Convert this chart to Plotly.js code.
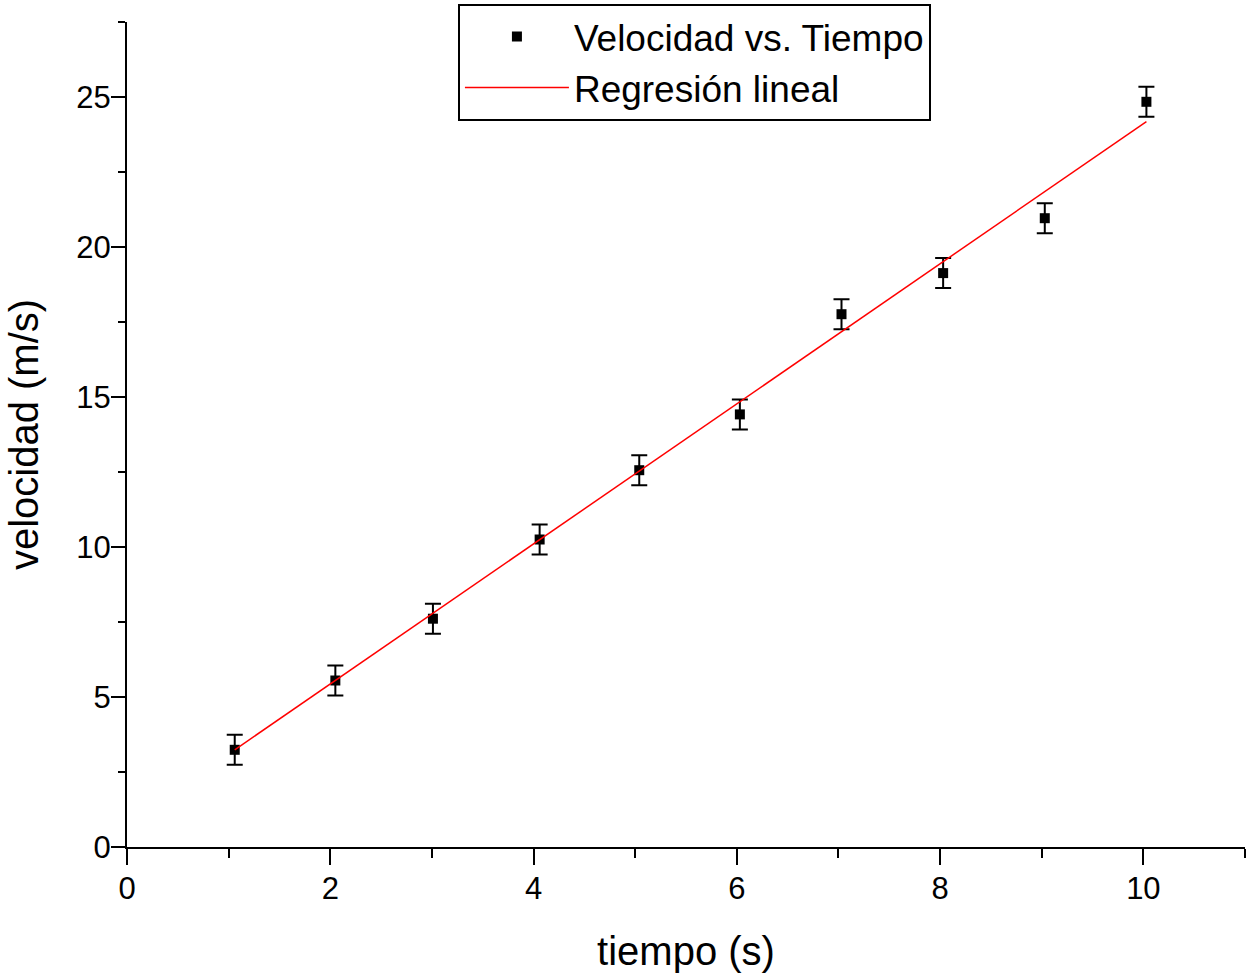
<!DOCTYPE html>
<html>
<head>
<meta charset="utf-8">
<script src="https://cdn.plot.ly/plotly-3.0.1.min.js"></script>
<style>
html,body{margin:0;padding:0;background:#fff;}
#chart{width:1249px;height:980px;}
</style>
</head>
<body>
<div id="chart"></div>
<script>
// Data
var tiempo = [1.06, 2.05, 3.01, 4.06, 5.04, 6.03, 7.03, 8.03, 9.03, 10.03];
var velocidad = [3.24, 5.55, 7.61, 10.25, 12.56, 14.42, 17.76, 19.13, 20.96, 24.84];
var errorVel = [0.5, 0.5, 0.5, 0.5, 0.5, 0.5, 0.5, 0.5, 0.5, 0.5];
var fitX = [1.06, 10.03];
var fitY = [3.24, 24.18];
var seriesNames = ["Velocidad vs. Tiempo", "Regresión lineal"];
var xTitle = "tiempo (s)";
var yTitle = "velocidad (m/s)";

var FONT = "Liberation Sans, Arial, sans-serif";

var traces = [
  {
    x: tiempo, y: velocidad, type: "scatter", mode: "markers",
    name: seriesNames[0],
    marker: {symbol: "square", size: 10, color: "black"},
    error_y: {type: "data", array: errorVel, visible: true, color: "black", thickness: 2, width: 8}
  },
  {
    x: fitX, y: fitY, type: "scatter", mode: "lines",
    name: seriesNames[1],
    line: {color: "#ff0000", width: 1.5}
  }
];

var axisCommon = {
  showgrid: false, zeroline: false, showline: true,
  linecolor: "black", linewidth: 2,
  ticks: "outside", tickcolor: "black", tickwidth: 2,
  tickfont: {family: FONT, size: 31, color: "black"},
  mirror: false
};

var layout = {
  width: 1249, height: 980,
  paper_bgcolor: "white", plot_bgcolor: "white",
  margin: {l: 127, r: 4, t: 22, b: 133},
  showlegend: true,
  legend: {
    x: 0.296, y: 1.022, xanchor: "left", yanchor: "top",
    bordercolor: "black", borderwidth: 2, bgcolor: "white",
    font: {family: FONT, size: 37, color: "black"},
    itemwidth: 104, tracegroupgap: 0
  },
  xaxis: Object.assign({}, axisCommon, {
    range: [0, 11], tickmode: "linear", tick0: 0, dtick: 2, ticklen: 16,
    ticklabelstandoff: -3,
    minor: {dtick: 1, ticklen: 9, tickcolor: "black", tickwidth: 2, ticks: "outside", showgrid: false},
    title: {text: xTitle, font: {family: FONT, size: 40, color: "black"}, standoff: 32}
  }),
  yaxis: Object.assign({}, axisCommon, {
    range: [0, 27.5], tickmode: "linear", tick0: 0, dtick: 5, ticklen: 14,
    ticklabelstandoff: -6,
    minor: {dtick: 2.5, ticklen: 7, tickcolor: "black", tickwidth: 2, ticks: "outside", showgrid: false},
    title: {text: yTitle, font: {family: FONT, size: 40, color: "black"}, standoff: 25}
  })
};

Plotly.newPlot("chart", traces, layout, {displayModeBar: false, staticPlot: true});
</script>
</body>
</html>
